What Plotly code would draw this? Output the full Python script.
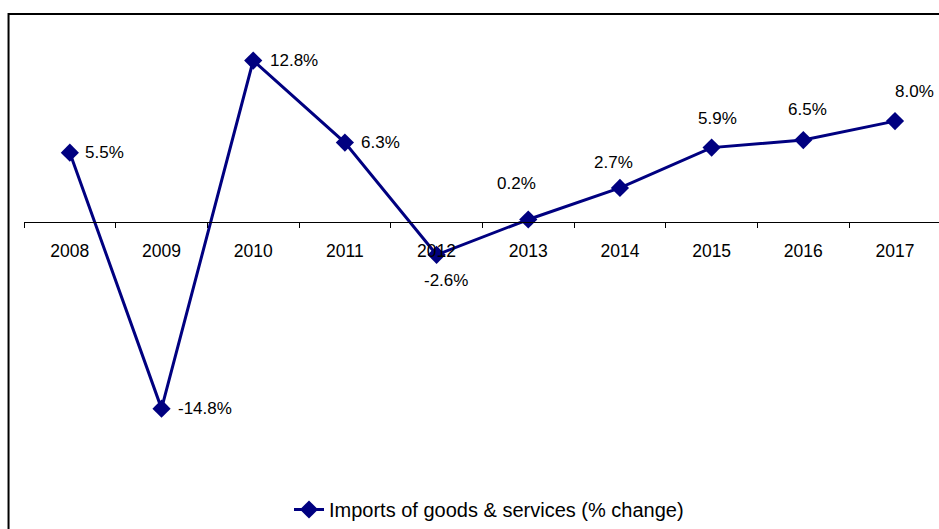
import plotly.graph_objects as go

years = ["2008", "2009", "2010", "2011", "2012", "2013", "2014", "2015", "2016", "2017"]
imports_change = [5.5, -14.8, 12.8, 6.3, -2.6, 0.2, 2.7, 5.9, 6.5, 8.0]
series_name = "Imports of goods & services (% change)"

NAVY = "#000080"
FONT = "Liberation Sans, Arial, sans-serif"

# label placement style (anchor, xshift, yshift) per point
label_style = [
    ("left", 13, 0), ("left", 14, 0), ("left", 15, 0), ("left", 14, 0),
    ("center", 9, -26), ("center", -12, 36), ("center", -6, 25),
    ("center", 6, 29), ("center", 4, 31), ("center", 20, 30),
]

fig = go.Figure()
fig.add_trace(go.Scatter(
    x=years, y=imports_change, mode="lines+markers", name=series_name,
    line=dict(color=NAVY, width=3),
    marker=dict(symbol="diamond", size=14, color=NAVY),
))

for i, (v, (anc, xs, ys)) in enumerate(zip(imports_change, label_style)):
    fig.add_annotation(
        x=i, y=v, xref="x", yref="y", text=f"{v:.1f}%", showarrow=False,
        xanchor=anc, yanchor="middle", xshift=xs, yshift=ys,
        font=dict(family=FONT, size=17, color="#000000"),
    )

W, H, TOP, LEFT = 939, 529, 32, 24
ZERO_PX, PX_PER_UNIT = 222, 12.61
y_hi = (ZERO_PX - TOP) / PX_PER_UNIT
y_lo = -(H - ZERO_PX) / PX_PER_UNIT
plot_h = H - TOP
plot_w = W - LEFT

fig.update_layout(
    width=W, height=H,
    margin=dict(l=LEFT, r=0, t=TOP, b=0),
    paper_bgcolor="white", plot_bgcolor="white",
    font=dict(family=FONT, size=17, color="#000000"),
    showlegend=True,
    legend=dict(
        orientation="h", xref="paper", yref="paper",
        x=(489 - LEFT) / plot_w, y=0,
        xanchor="center", yanchor="bottom",
        font=dict(family=FONT, size=20, color="#000000"),
        bgcolor="rgba(0,0,0,0)",
    ),
    xaxis=dict(
        type="category", range=[-0.5, 9.48],
        anchor="free", position=(0 - y_lo) / (y_hi - y_lo),
        showline=True, linecolor="#000000", linewidth=1,
        ticks="outside", tickson="boundaries", ticklen=5,
        tickcolor="#000000", tickwidth=1,
        showgrid=False, zeroline=False,
        tickfont=dict(family=FONT, size=17.5, color="#000000"),
        ticklabelstandoff=13, tickangle=0,
    ),
    yaxis=dict(
        range=[y_lo, y_hi], visible=False, showgrid=False, zeroline=False,
    ),
)

# chart border (cropped at right and bottom like the reference)
fig.add_shape(
    type="rect", xref="paper", yref="paper",
    x0=-0.0169, x1=1.02, y0=-0.1, y1=1 + (TOP - 14) / plot_h,
    line=dict(color="#000000", width=2), fillcolor="rgba(0,0,0,0)",
    layer="below",
)

fig.write_html("out.html")
